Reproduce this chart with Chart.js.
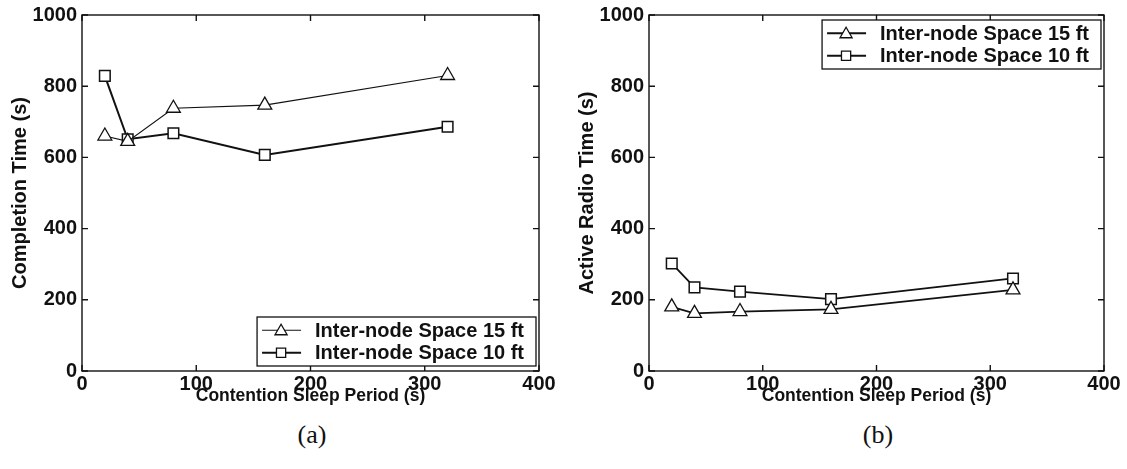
<!DOCTYPE html>
<html>
<head>
<meta charset="utf-8">
<script src="https://cdn.jsdelivr.net/npm/chart.js@4.4.1/dist/chart.umd.min.js"></script>
<style>
  html, body { margin: 0; padding: 0; background: #fff; }
  body { width: 1127px; height: 469px; position: relative; overflow: hidden; }
  .panel { position: absolute; top: 0; width: 560px; height: 411px; }
  .caption { position: absolute; top: 420px; width: 80px; text-align: center;
             font-family: "Liberation Serif", "DejaVu Serif", serif; font-size: 26px; color: #111; }
</style>
</head>
<body>
<div class="panel" style="left:0"><canvas id="chartA" width="560" height="411"></canvas></div>
<div class="panel" style="left:567px"><canvas id="chartB" width="560" height="411"></canvas></div>
<div class="caption" style="left:272px">(a)</div>
<div class="caption" style="left:838px">(b)</div>
<script>
// Contention sleep periods (s) shared by both panels
const sleepPeriods = [20, 40, 80, 160, 320];

// (a) Completion time (s)
const completion15ft = [660, 645, 738, 747, 830];
const completion10ft = [829, 651, 668, 607, 686];

// (b) Active radio time (s)
const radio15ft = [180, 162, 167, 173, 228];
const radio10ft = [302, 235, 223, 202, 260];

const seriesLabels = ['Inter-node Space 15 ft', 'Inter-node Space 10 ft'];
const xTickValues = [0, 100, 200, 300, 400];
const yTickValues = [0, 200, 400, 600, 800, 1000];

const FONT = '"Liberation Sans", Arial, sans-serif';
const INK = '#111';

function points(xs, ys) {
  return xs.map((x, i) => ({ x: x, y: ys[i] }));
}

// Box frame with inward ticks on all four sides
const frameTicks = {
  id: 'frameTicks',
  afterDatasetsDraw(chart) {
    const { ctx, chartArea: a, scales } = chart;
    ctx.save();
    ctx.strokeStyle = INK;
    ctx.lineWidth = 1.4;
    ctx.strokeRect(a.left, a.top, a.right - a.left, a.bottom - a.top);
    const len = 6;
    ctx.beginPath();
    xTickValues.forEach(v => {
      const px = scales.x.getPixelForValue(v);
      ctx.moveTo(px, a.bottom); ctx.lineTo(px, a.bottom - len);
      ctx.moveTo(px, a.top); ctx.lineTo(px, a.top + len);
    });
    yTickValues.forEach(v => {
      const py = scales.y.getPixelForValue(v);
      ctx.moveTo(a.left, py); ctx.lineTo(a.left + len, py);
      ctx.moveTo(a.right, py); ctx.lineTo(a.right - len, py);
    });
    ctx.stroke();
    ctx.restore();
  }
};

// Legend box with a line-and-marker sample per series
const boxLegend = {
  id: 'boxLegend',
  afterDraw(chart, args, opts) {
    const { ctx, chartArea: a } = chart;
    const sets = chart.data.datasets;
    ctx.save();
    ctx.font = 'bold 20px ' + FONT;
    const textW = Math.max(...sets.map(d => ctx.measureText(d.label).width));
    const rowH = 22.5;
    const w = 58 + textW + 12;
    const h = rowH * sets.length + 4;
    const right = a.right - 3;
    const left = right - w;
    const top = opts.place === 'bottom' ? a.bottom - 5 - h : a.top + 5;
    ctx.fillStyle = '#fff';
    ctx.fillRect(left, top, w, h);
    ctx.strokeStyle = INK;
    ctx.lineWidth = 1.3;
    ctx.strokeRect(left, top, w, h);
    sets.forEach((d, i) => {
      const y = top + 2 + rowH * i + rowH / 2;
      ctx.strokeStyle = INK;
      ctx.lineWidth = d.borderWidth;
      ctx.beginPath();
      ctx.moveTo(left + 5, y);
      ctx.lineTo(left + 44, y);
      ctx.stroke();
      ctx.lineWidth = 1.3;
      ctx.strokeStyle = INK;
      ctx.fillStyle = '#fff';
      Chart.helpers.drawPoint(ctx, {
        pointStyle: d.pointStyle, rotation: 0, borderWidth: 1.3,
        radius: d.pointStyle === 'triangle' ? 7 : 6.5
      }, left + 24, y + (d.pointStyle === 'triangle' ? 1 : 0));
      ctx.fillStyle = INK;
      ctx.textBaseline = 'middle';
      ctx.textAlign = 'left';
      ctx.fillText(d.label, left + 58, y + 1);
    });
    ctx.restore();
  }
};

function makePanel(canvasId, yTitle, s15, s10, legendPlace, rightPad, width15, width10) {
  return new Chart(document.getElementById(canvasId), {
    type: 'line',
    data: {
      datasets: [
        {
          label: seriesLabels[0],
          data: points(sleepPeriods, s15),
          borderColor: INK, borderWidth: width15,
          pointStyle: 'triangle', pointRadius: 8,
          pointBackgroundColor: '#fff', pointBorderColor: INK, pointBorderWidth: 1.3,
          tension: 0
        },
        {
          label: seriesLabels[1],
          data: points(sleepPeriods, s10),
          borderColor: INK, borderWidth: width10,
          pointStyle: 'rect', pointRadius: 7.5,
          pointBackgroundColor: '#fff', pointBorderColor: INK, pointBorderWidth: 1.5,
          tension: 0
        }
      ]
    },
    options: {
      responsive: false,
      animation: false,
      events: [],
      layout: { padding: { top: 15, right: rightPad, left: 0, bottom: 0 } },
      plugins: {
        legend: { display: false },
        tooltip: { enabled: false },
        boxLegend: { place: legendPlace }
      },
      scales: {
        x: {
          type: 'linear', min: 0, max: 400,
          afterBuildTicks: s => { s.ticks = xTickValues.map(v => ({ value: v })); },
          afterFit: s => { s.height = 40; s.paddingLeft = 0; s.paddingRight = 0; },
          grid: { display: false, drawTicks: false },
          border: { display: false },
          ticks: {
            padding: 1, color: INK, font: { family: FONT, size: 20, weight: 'bold' },
            callback: v => String(v)
          },
          title: {
            display: true, text: 'Contention Sleep Period (s)', color: INK,
            font: { family: FONT, size: 17.5, weight: 'bold' }, padding: { top: 0, bottom: 4 }
          }
        },
        y: {
          type: 'linear', min: 0, max: 1000,
          afterBuildTicks: s => { s.ticks = yTickValues.map(v => ({ value: v })); },
          afterFit: s => { s.width = 82; s.paddingTop = 0; s.paddingBottom = 0; },
          grid: { display: false, drawTicks: false },
          border: { display: false },
          ticks: {
            padding: 5, color: INK, font: { family: FONT, size: 20, weight: 'bold' },
            callback: v => String(v)
          },
          title: {
            display: true, text: yTitle, color: INK,
            font: { family: FONT, size: 20, weight: 'bold' }, padding: { top: 8, bottom: 0 }
          }
        }
      }
    },
    plugins: [frameTicks, boxLegend]
  });
}

makePanel('chartA', 'Completion Time (s)', completion15ft, completion10ft, 'bottom', 21, 1.2, 2);
makePanel('chartB', 'Active Radio Time (s)', radio15ft, radio10ft, 'top', 23, 1.8, 1.8);
</script>
</body>
</html>
